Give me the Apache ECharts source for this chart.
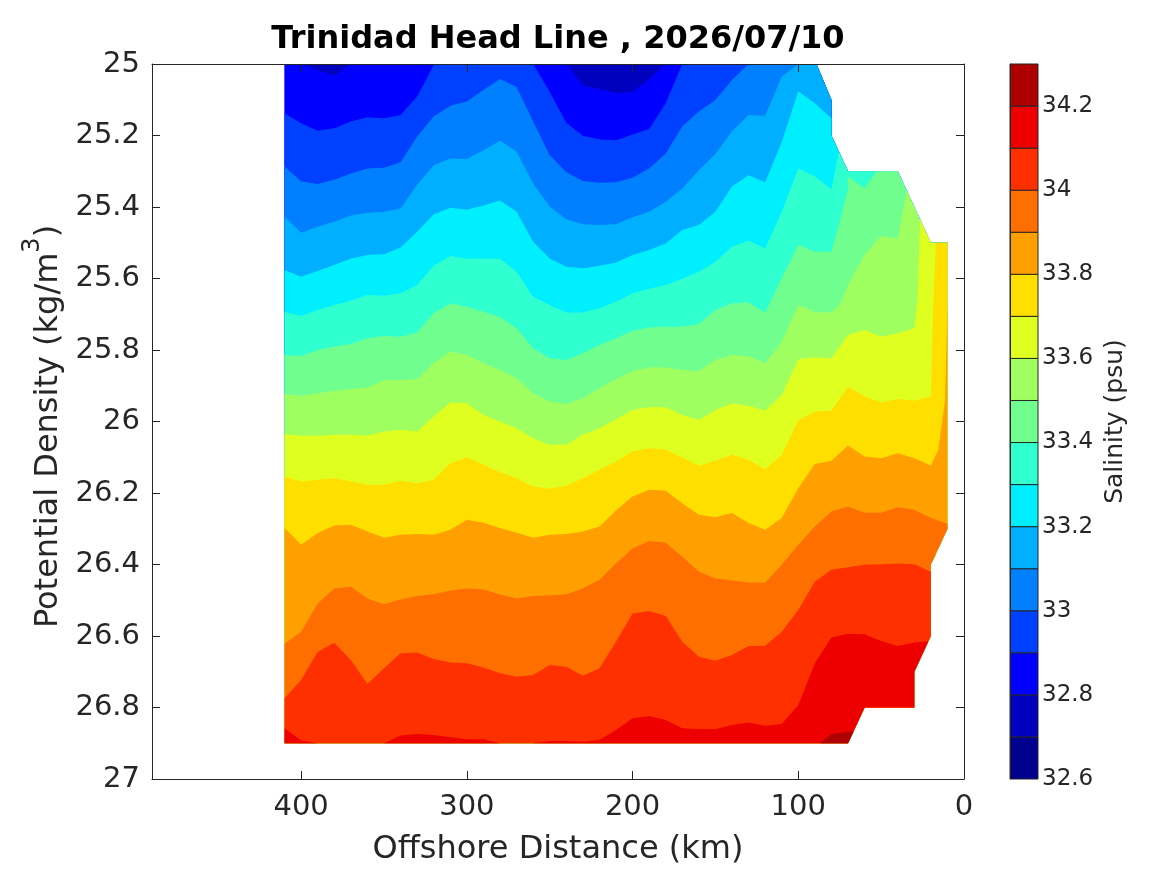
<!DOCTYPE html>
<html>
<head>
<meta charset="utf-8">
<style>html,body{margin:0;padding:0;background:#fff}#c{width:1167px;height:875px}</style>
<script src="https://cdn.jsdelivr.net/npm/echarts@6/dist/echarts.min.js"></script>
</head>
<body>
<div id="c"></div>
<script>
// Column positions of the section, km offshore (values below start at 410 and step by 10)
const firstKm = 410, stepKm = 10;

// Salinity band edges and colours (psu)
const bandEdges = [32.6,32.7,32.8,32.9,33.0,33.1,33.2,33.3,33.4,33.5,33.6,33.7,33.8,33.9,34.0,34.1,34.2,34.3];
const bandColors = ['#00008f','#0000bf','#0000ff','#0040ff','#0080ff','#00afff','#00efff','#30ffcf','#70ff8f','#a0ff60','#dfff20','#ffdf00','#ff9f00','#ff6f00','#ff3000','#ef0000','#af0000'];

// Outer edge of the sampled section from the top to the bottom, [km, density]
const sectionEdge = [[89,25],[80,25.1],[80,25.2],[70,25.3],[40,25.3],[20,25.5],[10,25.5],[10,26.3],[20,26.4],[20,26.6],[30,26.7],[30,26.8],[60,26.8],[70,26.9],[410,26.9]];

// Density of each isohaline at the columns, then extra [km, density] points to the edge
const s32_8 = [25,25,25.017,25.033,25,25,25,25,25,25,25,25,25,25,25,25,25,25,25.060,25.070,25.081,25.078,25.042,25,25,25,25,25,25,25,25,25,25];
const s32_8end = [[89,25]];
const s32_9 = [25.138,25.166,25.187,25.180,25.161,25.149,25.152,25.143,25.091,25.003,25,25,25,25,25,25,25.078,25.164,25.201,25.211,25.213,25.197,25.182,25.110,25,25,25,25,25,25,25,25,25];
const s32_9end = [[89,25]];
const s33_0 = [25.287,25.329,25.336,25.324,25.306,25.292,25.290,25.275,25.203,25.147,25.117,25.105,25.073,25.042,25.064,25.161,25.255,25.303,25.327,25.332,25.331,25.318,25.292,25.250,25.175,25.133,25.101,25.045,25,25,25,25,25];
const s33_0end = [[89,25]];
const s33_1 = [25.427,25.472,25.455,25.441,25.424,25.416,25.413,25.404,25.338,25.283,25.264,25.266,25.241,25.215,25.245,25.334,25.399,25.434,25.448,25.450,25.448,25.429,25.413,25.385,25.348,25.297,25.252,25.188,25.143,25.145,25.036,25,25];
const s33_1end = [[89,25]];
const s33_2 = [25.576,25.595,25.579,25.562,25.544,25.534,25.532,25.513,25.469,25.420,25.402,25.408,25.396,25.382,25.413,25.497,25.544,25.567,25.571,25.564,25.555,25.534,25.520,25.502,25.464,25.450,25.413,25.343,25.311,25.331,25.219,25.076,25.110,25.152];
const s33_2end = [];
const s33_3 = [25.694,25.705,25.688,25.674,25.662,25.646,25.648,25.641,25.618,25.564,25.537,25.545,25.545,25.545,25.581,25.651,25.674,25.695,25.695,25.683,25.665,25.641,25.629,25.618,25.601,25.581,25.553,25.511,25.494,25.516,25.413,25.292,25.315,25.350];
const s33_3end = [[75.5,25.245]];
const s33_4 = [25.814,25.817,25.800,25.790,25.783,25.767,25.761,25.763,25.751,25.697,25.669,25.679,25.693,25.708,25.739,25.795,25.823,25.828,25.809,25.786,25.767,25.746,25.737,25.735,25.735,25.727,25.688,25.669,25.667,25.695,25.599,25.506,25.525,25.525];
const s33_4end = [[75,25.441],[70,25.348],[70,25.315],[60,25.348],[52.7,25.3]];
const s33_5 = [25.924,25.928,25.921,25.914,25.910,25.905,25.884,25.884,25.882,25.837,25.804,25.814,25.837,25.856,25.879,25.921,25.944,25.951,25.935,25.907,25.882,25.859,25.849,25.849,25.856,25.859,25.828,25.814,25.818,25.837,25.777,25.674,25.694,25.695];
const s33_5end = [[75,25.674],[70,25.618],[60,25.534],[50,25.481],[40,25.489],[34.6,25.354]];
const s33_6 = [26.035,26.040,26.040,26.037,26.037,26.039,26.028,26.023,26.028,25.986,25.947,25.949,25.982,26.000,26.019,26.047,26.065,26.064,26.037,26.019,25.994,25.968,25.960,25.960,25.982,25.996,25.968,25.949,25.956,25.970,25.926,25.826,25.820,25.823,25.758,25.744,25.763,25.753,25.739];
const s33_6end = [[28,25.66],[26.5,25.435]];
const s33_7 = [26.154,26.168,26.163,26.159,26.168,26.177,26.177,26.166,26.173,26.163,26.117,26.100,26.121,26.142,26.159,26.182,26.188,26.180,26.159,26.135,26.112,26.084,26.075,26.078,26.101,26.124,26.110,26.093,26.107,26.133,26.093,25.997,25.972,25.970,25.902,25.930,25.947,25.937,25.942,25.930];
const s33_7end = [[18.5,25.67],[17,25.5]];
const s33_8 = [26.298,26.345,26.312,26.291,26.289,26.308,26.325,26.317,26.315,26.317,26.303,26.275,26.283,26.298,26.311,26.325,26.317,26.315,26.308,26.294,26.249,26.210,26.191,26.194,26.229,26.261,26.268,26.256,26.284,26.303,26.270,26.187,26.119,26.110,26.067,26.098,26.103,26.089,26.103,26.123];
const s33_8end = [[15.5,26.079],[11.4,25.94],[10,25.669]];
const s33_9 = [26.622,26.588,26.509,26.467,26.462,26.495,26.511,26.498,26.488,26.483,26.473,26.467,26.470,26.484,26.495,26.488,26.487,26.483,26.467,26.443,26.397,26.355,26.334,26.339,26.378,26.420,26.439,26.445,26.450,26.451,26.401,26.345,26.294,26.252,26.238,26.255,26.255,26.240,26.247,26.270,26.286];
const s33_9end = [];
const s34_0 = [26.774,26.723,26.644,26.619,26.667,26.734,26.690,26.648,26.646,26.664,26.674,26.676,26.688,26.704,26.714,26.709,26.681,26.686,26.711,26.690,26.616,26.537,26.530,26.544,26.616,26.658,26.669,26.653,26.628,26.627,26.588,26.527,26.448,26.415,26.408,26.401,26.399,26.397,26.399,26.420];
const s34_0end = [];
const s34_1 = [26.858,26.892,26.9,26.9,26.9,26.9,26.9,26.878,26.874,26.877,26.883,26.889,26.889,26.9,26.9,26.9,26.894,26.894,26.896,26.891,26.863,26.830,26.824,26.835,26.858,26.860,26.860,26.849,26.842,26.851,26.846,26.793,26.676,26.604,26.594,26.595,26.614,26.628,26.618];
const s34_1end = [[21.5,26.615]];
const s34_2 = [];
const s34_2end = [[410,26.9],[87,26.9],[80,26.874],[70,26.868],[66.7,26.867]];

const isohalines = [
  [s32_8,s32_8end],[s32_9,s32_9end],[s33_0,s33_0end],[s33_1,s33_1end],[s33_2,s33_2end],
  [s33_3,s33_3end],[s33_4,s33_4end],[s33_5,s33_5end],[s33_6,s33_6end],[s33_7,s33_7end],
  [s33_8,s33_8end],[s33_9,s33_9end],[s34_0,s34_0end],[s34_1,s34_1end],[s34_2,s34_2end]
];

// Tick values
const distanceTicksStep = 100, densityTicksStep = 0.2, salinityTicksStep = 0.2;

// Each filled region: the isohaline, then the section edge below where it ends
function segDist(p, a, b) {
  const sx = 0.006, dx = (b[0]-a[0])*sx, dy = b[1]-a[1];
  const px = (p[0]-a[0])*sx, py = p[1]-a[1];
  const l = dx*dx + dy*dy;
  const t = l ? Math.max(0, Math.min(1, (px*dx+py*dy)/l)) : 0;
  return Math.hypot(px-t*dx, py-t*dy);
}
function regionFor(values, tail) {
  const pts = values.map((d, i) => [firstKm - i*stepKm, d]).concat(tail);
  const end = pts[pts.length-1];
  let best = 0, bestD = Infinity;
  for (let i = 0; i < sectionEdge.length-1; i++) {
    const dist = segDist(end, sectionEdge[i], sectionEdge[i+1]);
    if (dist < bestD) { bestD = dist; best = i; }
  }
  return pts.concat(sectionEdge.slice(best+1));
}
const regions = [{pts: [[410,25]].concat(sectionEdge), color: bandColors[1]}];
isohalines.forEach((c, i) => regions.push({pts: regionFor(c[0], c[1]), color: bandColors[i+2]}));

const ink = '#262626', font = 'DejaVu Sans';
const boxAxis = {
  axisLine:{show:true,onZero:false,lineStyle:{color:ink,width:1}},
  axisTick:{show:true,inside:true,length:8,lineStyle:{color:ink,width:1}},
  splitLine:{show:false}, z:10, silent:true
};
const chart = echarts.init(document.getElementById('c'), null, {renderer:'canvas'});
chart.setOption({
  animation:false,
  backgroundColor:'#fff',
  title:{text:'Trinidad Head Line , 2026/07/10',left:553,top:19,textAlign:'center',
    textStyle:{fontFamily:font,fontWeight:'bold',fontSize:32,color:'#000'}},
  grid:[{left:152,right:203,top:64,bottom:96},{left:1010,width:28,top:64,bottom:96}],
  xAxis:[
    Object.assign({},boxAxis,{type:'value',gridIndex:0,inverse:true,min:0,max:490,interval:distanceTicksStep,position:'bottom',
      name:'Offshore Distance (km)',nameLocation:'middle',nameGap:55,
      nameTextStyle:{fontFamily:font,fontSize:32,color:ink},
      axisLabel:{margin:14,fontFamily:font,fontSize:29,color:ink,formatter:v=>v%100===0?String(v):''}}),
    Object.assign({},boxAxis,{type:'value',gridIndex:0,inverse:true,min:0,max:490,interval:distanceTicksStep,position:'top',axisLabel:{show:false}}),
    {type:'value',gridIndex:1,min:0,max:1,show:false}
  ],
  yAxis:[
    Object.assign({},boxAxis,{type:'value',gridIndex:0,inverse:true,min:25,max:27,interval:densityTicksStep,position:'left',
      name:'{a|Potential Density (kg/m}{b|3}{a|)}',nameLocation:'middle',nameGap:81,nameRotate:90,
      nameTextStyle:{fontFamily:font,color:ink,padding:[0,10,0,0],rich:{
        a:{fontFamily:font,fontSize:32,color:ink,lineHeight:44,verticalAlign:'bottom'},
        b:{fontFamily:font,fontSize:24,color:ink,lineHeight:44,verticalAlign:'top',padding:[0,0,0,0]}}},
      axisLabel:{margin:12,padding:[5,0,0,0],fontFamily:font,fontSize:29,color:ink}}),
    Object.assign({},boxAxis,{type:'value',gridIndex:0,inverse:true,min:25,max:27,interval:densityTicksStep,position:'right',axisLabel:{show:false}}),
    {type:'value',gridIndex:1,min:32.6,max:34.3,interval:salinityTicksStep,position:'right',z:10,
      axisLine:{show:true,lineStyle:{color:ink,width:1}},axisTick:{show:false},splitLine:{show:false},
      name:'Salinity (psu)',nameLocation:'middle',nameGap:65,nameRotate:90,
      nameTextStyle:{fontFamily:font,fontSize:25,color:ink},
      axisLabel:{margin:4,padding:[6,0,0,0],fontFamily:font,fontSize:23,color:ink,formatter:v=>v>34.25?'':String(+v.toFixed(1))}}
  ],
  series:[
    {type:'custom',xAxisIndex:0,yAxisIndex:0,clip:true,silent:true,z:2,
      data:regions.map(()=>[0,25]),encode:{x:0,y:1},
      renderItem:(params,api)=>{
        const r = regions[params.dataIndex];
        return {type:'polygon',shape:{points:r.pts.map(p=>api.coord(p))},style:{fill:r.color}};
      }},
    {type:'custom',xAxisIndex:2,yAxisIndex:2,silent:true,z:2,
      data:bandColors.map((c,i)=>[0,bandEdges[i],1,bandEdges[i+1]]),encode:{x:[0,2],y:[1,3]},
      renderItem:(params,api)=>{
        const a = api.coord([0,api.value(1)]), b = api.coord([1,api.value(3)]);
        return {type:'rect',shape:{x:a[0],y:b[1],width:b[0]-a[0],height:a[1]-b[1]},
          style:{fill:bandColors[params.dataIndex],stroke:ink,lineWidth:1}};
      }}
  ]
});
</script>
</body>
</html>
